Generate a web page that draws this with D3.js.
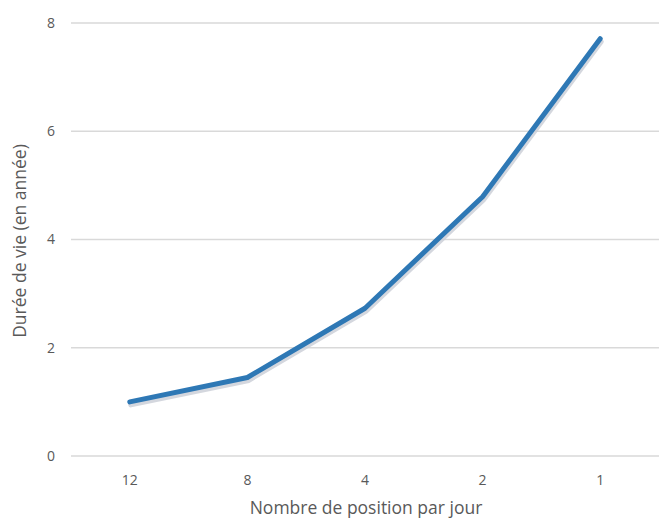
<!doctype html>
<html lang="fr">
<head>
<meta charset="UTF-8">
<title>Durée de vie</title>
<script src="https://cdn.jsdelivr.net/npm/d3@7"></script>
<style>
  body { margin: 0; background: #fff; }
  text { font-family: "Open Sans", "Noto Sans", sans-serif; fill: #595959; }
</style>
</head>
<body>
<div id="chart"></div>
<script>
// positions par jour (axe x) et durée de vie en années
var categories = ["12", "8", "4", "2", "1"];
var dureeVie = [1.0, 1.45, 2.73, 4.79, 7.71];
var yTicks = [0, 2, 4, 6, 8];

var width = 659, height = 520;
var margin = {top: 23, right: 0, bottom: 64, left: 71};

var svg = d3.select("#chart").append("svg")
  .attr("width", width).attr("height", height);

var x = d3.scaleBand().domain(categories)
  .range([margin.left, width - margin.right]);
var y = d3.scaleLinear().domain([0, 8])
  .range([height - margin.bottom, margin.top]);

// grille horizontale
svg.append("g").selectAll("line").data(yTicks).enter().append("line")
  .attr("x1", margin.left).attr("x2", width - margin.right)
  .attr("y1", function(d) { return y(d); })
  .attr("y2", function(d) { return y(d); })
  .attr("stroke", "#d9d9d9").attr("stroke-width", 1.3);

// étiquettes y
svg.append("g").selectAll("text").data(yTicks).enter().append("text")
  .attr("x", 55).attr("y", function(d) { return y(d); })
  .attr("dy", "0.35em").attr("text-anchor", "end")
  .style("font-size", "14px")
  .text(function(d) { return d; });

// étiquettes x
svg.append("g").selectAll("text").data(categories).enter().append("text")
  .attr("x", function(d) { return x(d) + x.bandwidth() / 2; })
  .attr("y", 485).attr("text-anchor", "middle")
  .style("font-size", "14px")
  .text(function(d) { return d; });

// titres des axes
svg.append("text")
  .attr("x", 366).attr("y", 514)
  .attr("text-anchor", "middle").style("font-size", "17.5px")
  .text("Nombre de position par jour");

svg.append("text")
  .attr("transform", "translate(26,241) rotate(-90)")
  .attr("text-anchor", "middle").style("font-size", "17.5px")
  .text("Durée de vie (en année)");

var line = d3.line()
  .x(function(d, i) { return x(categories[i]) + x.bandwidth() / 2; })
  .y(function(d) { return y(d); });

// ombre
svg.append("path").datum(dureeVie)
  .attr("d", line)
  .attr("transform", "translate(1,3)")
  .attr("fill", "none").attr("stroke", "#c9cdd6")
  .attr("stroke-width", 5).attr("stroke-linecap", "round")
  .attr("opacity", 0.8);

svg.append("path").datum(dureeVie)
  .attr("d", line)
  .attr("fill", "none").attr("stroke", "#2e78b5")
  .attr("stroke-width", 5).attr("stroke-linecap", "round")
  .attr("stroke-linejoin", "round");
</script>
</body>
</html>
